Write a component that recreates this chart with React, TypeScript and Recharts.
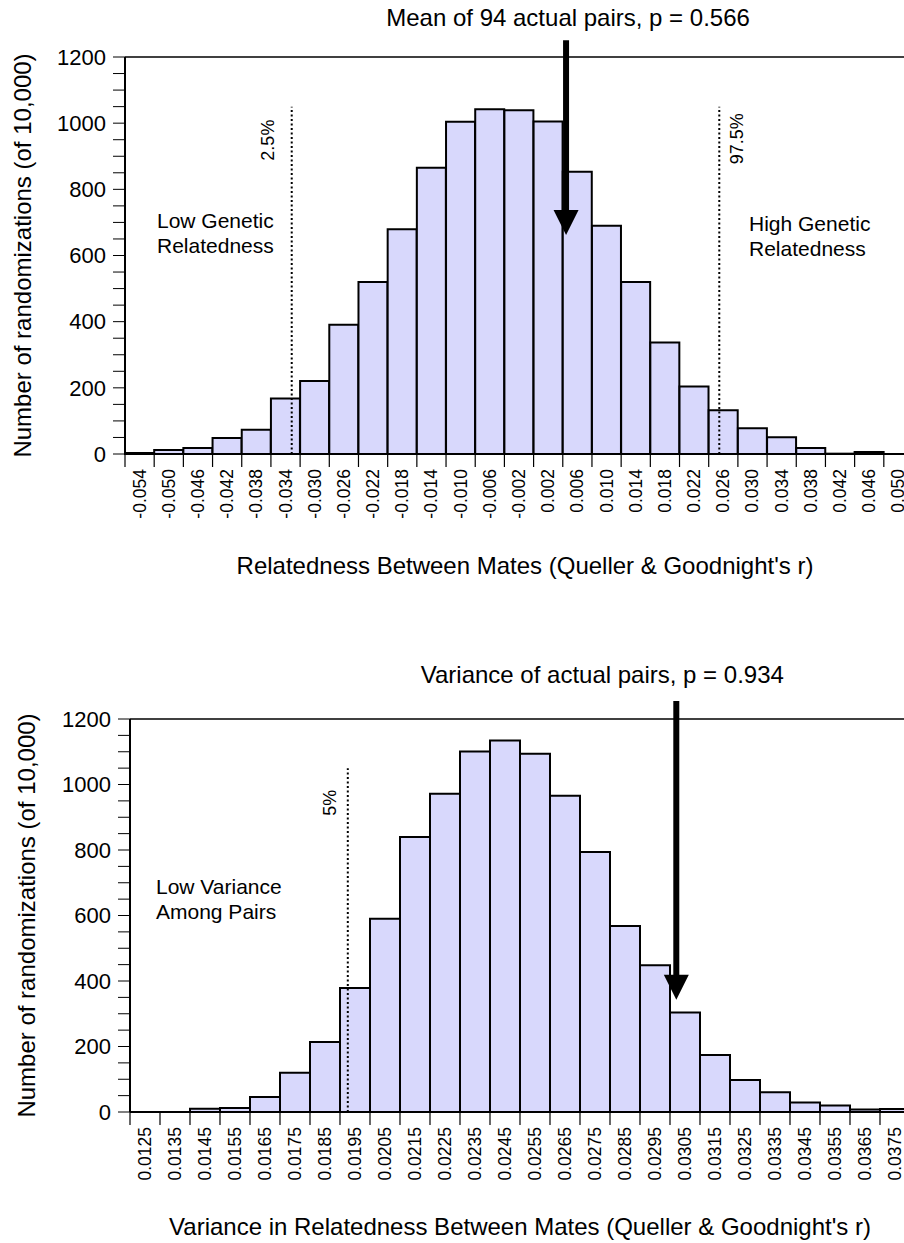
import React from "react";
import {
  BarChart,
  Bar,
  XAxis,
  YAxis,
  ReferenceLine,
} from "recharts";

// top panel: relatedness between mates
const relBins = [
  "-0.054", "-0.050", "-0.046", "-0.042", "-0.038", "-0.034", "-0.030",
  "-0.026", "-0.022", "-0.018", "-0.014", "-0.010", "-0.006", "-0.002",
  "0.002", "0.006", "0.010", "0.014", "0.018", "0.022", "0.026",
  "0.030", "0.034", "0.038", "0.042", "0.046", "0.050",
];
const relCounts = [
  3, 12, 18, 48, 73, 168, 221, 391, 520, 679, 865, 1004, 1042, 1039,
  1005, 853, 690, 520, 337, 204, 132, 78, 51, 18, 1, 6, 0,
];
const relEdges: [number, number] = [-0.056, 0.052];
const relMean = 0.00445;
const relCuts = [
  { x: -0.03315, label: "2.5%" },
  { x: 0.02545, label: "97.5%" },
];

// bottom panel: variance in relatedness
const varBins = [
  "0.0125", "0.0135", "0.0145", "0.0155", "0.0165", "0.0175", "0.0185",
  "0.0195", "0.0205", "0.0215", "0.0225", "0.0235", "0.0245", "0.0255",
  "0.0265", "0.0275", "0.0285", "0.0295", "0.0305", "0.0315", "0.0325",
  "0.0335", "0.0345", "0.0355", "0.0365", "0.0375",
];
const varCounts = [
  0, 0, 10, 12, 46, 120, 214, 379, 590, 840, 972, 1101, 1134, 1094,
  966, 794, 568, 448, 304, 174, 98, 60, 29, 20, 8, 9,
];
const varEdges: [number, number] = [0.012, 0.038];
const varActual = 0.03021;
const varCuts = [{ x: 0.01926, label: "5%" }];

const yTicks = [
  0, 50, 100, 150, 200, 250, 300, 350, 400, 450, 500, 550, 600, 650, 700,
  750, 800, 850, 900, 950, 1000, 1050, 1100, 1150, 1200,
];

const FONT = "'Liberation Sans', Arial, Helvetica, sans-serif";
const BAR_FILL = "#d8d8fc";

function EdgeTick(props: any) {
  const { x, y, payload } = props;
  const half = payload.offset ?? 0;
  return (
    <g>
      <line x1={x - half} x2={x - half} y1={y - 15} y2={y - 2} stroke="#000" strokeWidth={1.2} />
      <text
        x={x}
        y={y}
        transform={`rotate(-90, ${x}, ${y})`}
        textAnchor="end"
        dominantBaseline="central"
        fontSize={17.5}
        fill="#000"
      >
        {payload.value}
      </text>
    </g>
  );
}

function Arrow(props: any) {
  const { x1, y1, x2, y2 } = props;
  return (
    <g>
      <line x1={x1} y1={y1} x2={x2} y2={y2 - 20} stroke="#000" strokeWidth={6} />
      <polygon points={`${x2 - 12.5},${y2 - 25} ${x2 + 12.5},${y2 - 25} ${x2},${y2}`} fill="#000" />
    </g>
  );
}

function cutLabel(text: string, dx: number, dy: number) {
  return (p: any) => {
    const vb = p.viewBox || {};
    const cx = vb.x + dx;
    const cy = vb.y + dy;
    return (
      <text
        x={cx}
        y={cy}
        transform={`rotate(-90, ${cx}, ${cy})`}
        textAnchor="middle"
        dominantBaseline="central"
        fontSize={18}
        fill="#000"
      >
        {text}
      </text>
    );
  };
}

function Note({ x, y, lines }: { x: number; y: number; lines: string[] }) {
  return (
    <text x={x} y={y} fontSize={21} fill="#000">
      {lines.map((l, i) => (
        <tspan key={i} x={x} dy={i === 0 ? 0 : 25}>
          {l}
        </tspan>
      ))}
    </text>
  );
}

const yLabelFmt = (v: number) => (v % 200 === 0 ? String(v) : "");

export default function App() {
  const relData = relBins.map((b, i) => ({ bin: b, center: Number(b), count: relCounts[i] }));
  const varData = varBins.map((b, i) => ({ bin: b, center: Number(b), count: varCounts[i] }));

  return (
    <div
      style={{
        position: "absolute",
        left: 0,
        top: 0,
        width: 904,
        height: 1243,
        overflow: "hidden",
        background: "#fff",
        fontFamily: FONT,
      }}
    >
      <div style={{ position: "absolute", left: 0, top: 0 }}>
        <BarChart
          width={940}
          height={600}
          data={relData}
          margin={{ top: 57, right: 27, left: 0, bottom: 16 }}
          barCategoryGap={0}
          barGap={0}
        >
          <XAxis
            dataKey="bin"
            interval={0}
            height={130}
            tickLine={false}
            tickSize={0}
            tickMargin={15}
            tick={EdgeTick}
            axisLine={{ stroke: "#000", strokeWidth: 2 }}
            label={{
              value: "Relatedness Between Mates (Queller & Goodnight's r)",
              position: "insideBottom",
              offset: 10,
              dx: 6,
              fontSize: 24,
              fill: "#000",
            }}
          />
          <XAxis
            xAxisId="num"
            dataKey="center"
            type="number"
            domain={relEdges}
            allowDataOverflow
            hide
          />
          <YAxis
            width={125}
            domain={[0, 1200]}
            ticks={yTicks}
            interval={0}
            tickFormatter={yLabelFmt}
            tickSize={12}
            tickMargin={7}
            tick={{ fontSize: 22, fill: "#000" }}
            tickLine={{ stroke: "#000" }}
            axisLine={{ stroke: "#000", strokeWidth: 2 }}
            label={{
              value: "Number of randomizations (of 10,000)",
              angle: -90,
              position: "insideLeft",
              offset: 22.5,
              textAnchor: "middle",
              fontSize: 24,
              fill: "#000",
            }}
          />
          <Bar dataKey="count" fill={BAR_FILL} stroke="#000" strokeWidth={2} isAnimationActive={false} />
          <ReferenceLine y={1200} stroke="#000" strokeWidth={1.5} />
          {relCuts.map((c, i) => (
            <ReferenceLine
              key={c.label}
              xAxisId="num"
              segment={[{ x: c.x, y: 0 }, { x: c.x, y: 1050 }]}
              stroke="#000"
              strokeWidth={2}
              strokeDasharray="2 2.5"
              label={{ content: cutLabel(c.label, i === 0 ? -23.5 : 17.5, i === 0 ? 33.5 : 32) }}
            />
          ))}
          <ReferenceLine
            xAxisId="num"
            segment={[{ x: relMean, y: 1251 }, { x: relMean, y: 662 }]}
            ifOverflow="visible"
            shape={Arrow}
            label={{
              value: "Mean of 94 actual pairs, p = 0.566",
              position: "top",
              offset: 14,
              dx: 2,
              fontSize: 24,
              fill: "#000",
            }}
          />
          <Note x={157} y={228} lines={["Low Genetic", "Relatedness"]} />
          <Note x={749} y={231} lines={["High Genetic", "Relatedness"]} />
        </BarChart>
      </div>

      <div style={{ position: "absolute", left: 0, top: 620 }}>
        <BarChart
          width={940}
          height={623}
          data={varData}
          margin={{ top: 99, right: 30, left: 0, bottom: 6 }}
          barCategoryGap={0}
          barGap={0}
        >
          <XAxis
            dataKey="bin"
            interval={0}
            height={125}
            tickLine={false}
            tickSize={0}
            tickMargin={15}
            tick={EdgeTick}
            axisLine={{ stroke: "#000", strokeWidth: 2 }}
            label={{
              value: "Variance in Relatedness Between Mates (Queller & Goodnight's r)",
              position: "insideBottom",
              offset: 2,
              fontSize: 24,
              fill: "#000",
            }}
          />
          <XAxis
            xAxisId="num"
            dataKey="center"
            type="number"
            domain={varEdges}
            allowDataOverflow
            hide
          />
          <YAxis
            width={130}
            domain={[0, 1200]}
            ticks={yTicks}
            interval={0}
            tickFormatter={yLabelFmt}
            tickSize={12}
            tickMargin={7}
            tick={{ fontSize: 22, fill: "#000" }}
            tickLine={{ stroke: "#000" }}
            axisLine={{ stroke: "#000", strokeWidth: 2 }}
            label={{
              value: "Number of randomizations (of 10,000)",
              angle: -90,
              position: "insideLeft",
              offset: 26.5,
              textAnchor: "middle",
              fontSize: 24,
              fill: "#000",
            }}
          />
          <Bar dataKey="count" fill={BAR_FILL} stroke="#000" strokeWidth={2} isAnimationActive={false} />
          <ReferenceLine y={1200} stroke="#000" strokeWidth={1.5} />
          {varCuts.map((c) => (
            <ReferenceLine
              key={c.label}
              xAxisId="num"
              segment={[{ x: c.x, y: 0 }, { x: c.x, y: 1050 }]}
              stroke="#000"
              strokeWidth={2}
              strokeDasharray="2 2.5"
              label={{ content: cutLabel(c.label, -17.7, 34.7) }}
            />
          ))}
          <ReferenceLine
            xAxisId="num"
            segment={[{ x: varActual, y: 1255 }, { x: varActual, y: 343 }]}
            ifOverflow="visible"
            shape={Arrow}
            label={{
              value: "Variance of actual pairs, p = 0.934",
              position: "top",
              offset: 17.7,
              dx: -74,
              fontSize: 24,
              fill: "#000",
            }}
          />
          <Note x={156} y={274} lines={["Low Variance", "Among Pairs"]} />
        </BarChart>
      </div>
    </div>
  );
}
